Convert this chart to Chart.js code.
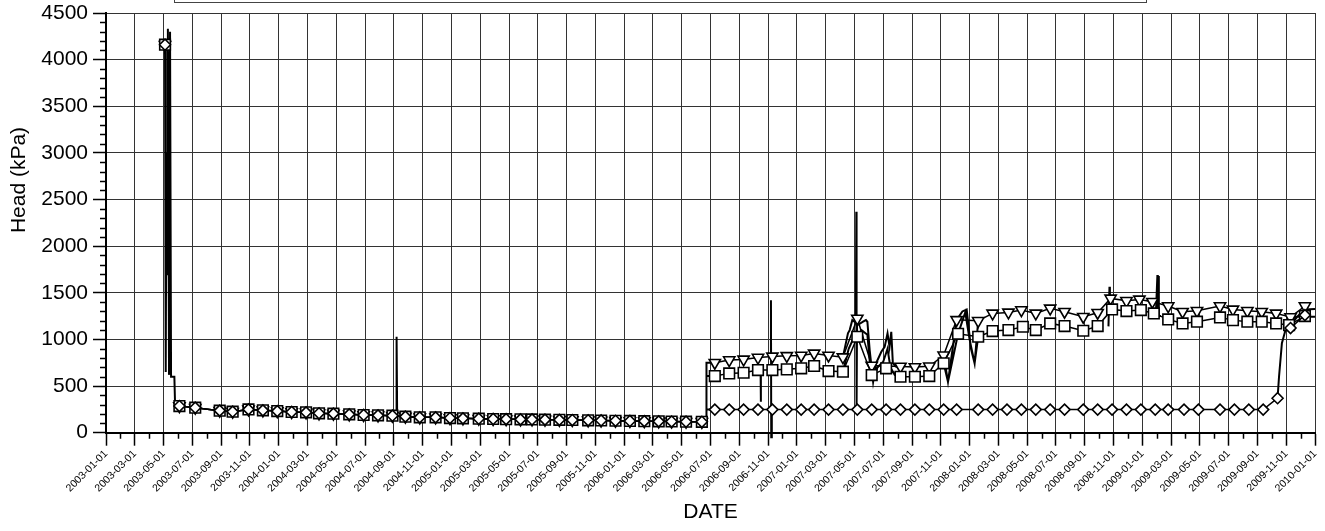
<!DOCTYPE html>
<html>
<head>
<meta charset="utf-8">
<script src="https://cdn.jsdelivr.net/npm/chart.js@4.4.1/dist/chart.umd.min.js"></script>
<style>
  html, body { margin: 0; padding: 0; background: #fff; }
</style>
</head>
<body>
<canvas id="headChart" width="1325" height="531"></canvas>
<script>
// x values are months counted from 2003-01-01
const startYear = 2003;
const monthCount = 84;

// readings shared by all three piezometers before the split in 2006-07
const earlyMonths = [4.1, 4.6, 5.1, 6.2, 7.9, 8.8, 9.9, 10.9, 11.9, 12.9, 13.9, 14.8, 15.8, 16.9, 17.9, 18.9, 19.9, 20.8, 21.8, 22.9,
  23.9, 24.8, 25.9, 26.9, 27.8, 28.8, 29.6, 30.5, 31.5, 32.4, 33.5, 34.4, 35.4, 36.4, 37.4, 38.4, 39.3, 40.3, 41.4, 41.8];
const earlyHead = [4160, null, 286, 268, 236, 225, 250, 240, 232, 222, 218, 208, 204, 197, 190, 186, 182, 172, 165, 165,
  157, 154, 150, 147, 145, 143, 142, 140, 138, 136, 133, 131, 128, 126, 124, 122, 120, 118, 117, null];

const squareMonths = [42.3, 43.3, 44.3, 45.3, 46.3, 47.3, 48.3, 49.2, 50.2, 51.2, 52.2, 53.2, 54.2, 55.2, 56.2, 57.2, 58.2, 59.2, 60.6, 61.6,
  62.7, 63.7, 64.6, 65.6, 66.6, 67.9, 68.9, 69.9, 70.9, 71.9, 72.8, 73.8, 74.8, 75.8, 77.4, 78.3, 79.3, 80.3, 81.3, 82.2, 83.3];
const squareHead = [607, 636, 643, 672, 672, 679, 690, 715, 661, 654, 1029, 618, 690, 600, 600, 607, 744, 1060, 1029, 1090,
  1100, 1136, 1100, 1172, 1143, 1093, 1143, 1322, 1304, 1315, 1279, 1215, 1172, 1190, 1236, 1207, 1190, 1190, 1172, 1154, 1250];

const triangleMonths = [42.3, 43.3, 44.3, 45.3, 46.3, 47.3, 48.3, 49.2, 50.2, 51.2, 52.2, 53.2, 55.2, 56.2, 57.2, 58.2, 59.1, 60.6, 61.6, 62.7,
  63.6, 64.6, 65.6, 66.6, 67.9, 68.9, 69.8, 70.9, 71.8, 72.7, 73.8, 74.8, 75.8, 77.4, 78.3, 79.3, 80.3, 81.3, 82.3, 83.3];
const triangleHead = [750, 779, 786, 806, 818, 824, 828, 850, 828, 810, 1225, 720, 710, 705, 712, 830, 1210, 1200, 1279, 1290,
  1315, 1279, 1333, 1297, 1243, 1286, 1440, 1414, 1429, 1404, 1358, 1297, 1307, 1358, 1322, 1307, 1297, 1279, 1240, 1358];

const diamondMonths = [42.3, 43.3, 44.3, 45.3, 46.3, 47.3, 48.3, 49.2, 50.2, 51.2, 52.2, 53.2, 54.2, 55.2, 56.2, 57.2, 58.2, 59.1, 60.6, 61.6,
  62.6, 63.6, 64.6, 65.6, 66.6, 67.9, 68.9, 69.9, 70.9, 71.9, 72.9, 73.8, 74.9, 75.9, 77.4, 78.4, 79.4, 80.4, 81.4, 81.8, 82.3, 83.3];
const diamondHead = [248, 248, 248, 248, 248, 248, 248, 248, 248, 248, 248, 248, 248, 248, 248, 248, 248, 248, 248, 248,
  248, 248, 248, 248, 248, 248, 248, 248, 248, 248, 248, 248, 248, 248, 248, 248, 248, 248, 370, null, 1122, 1261];

// continuous logger traces (no markers), null breaks the line
const loggerMonths = [
  4.1, 4.15, 4.2, 4.25, 4.3, 4.38, 4.45, 4.52, 4.75, 4.8, 5.1, 5.2,
  20.15, 20.19, 20.23, 20.3,
  41.4, 41.7, 41.72, 42.3, 42.31,
  41.72, 42.3, 42.31,
  41.72, 42.3, 42.31,
  45.48, 45.5, 45.52,
  46.15, 46.2, 46.22, 46.26, 46.3,
  51.2, 51.55, 51.67, 51.85, 52.1, 52.13, 52.15, 52.18, 52.6, 52.8, 52.9, 53.06, 53.3, 53.5, 53.87, 54.1, 54.3, 54.44, 54.56, 54.67, 54.9, 55.2, 55.3,
  51.2, 51.6, 51.9, 52.2, 52.5, 52.9, 53.1, 53.3, 53.6, 54.0, 54.3, 54.5, 54.8, 55.2, 55.3,
  58.2, 58.5, 59.1, 59.5, 59.8, 60.1, 60.35, 60.6, 60.7,
  58.2, 58.5, 59.2, 59.7, 60.0, 60.35, 60.6, 60.7,
  69.65, 69.72, 69.75, 69.9, 70.0,
  72.95, 73.05, 73.08, 73.12, 73.15, 73.3, 73.4,
  81.4, 81.5, 81.7, 81.95, 82.3, 82.8, 83.3, 84, 84,
  82.0, 82.7, 84
];
const loggerHead = [
  4160, 650, 3000, 1700, 4330, 620, 4300, 600, 600, 300, 286, null,
  178, 1030, 176, null,
  117, 117, 750, 750, null,
  607, 607, null,
  248, 248, null,
  672, 332, null,
  815, 1420, -50, 248, null,
  810, 1065, 1100, 1207, 1180, 2368, 270, 1150, 1190, 1207, 1190, 886, 546, 744, 868, 921, 1065, 921, 1082, 744, 707, 710, null,
  654, 900, 1000, 1029, 1100, 1050, 700, 580, 700, 760, 900, 700, 620, 600, null,
  830, 546, 1210, 1300, 1322, 900, 744, 1200, null,
  744, 546, 1060, 1290, 1000, 744, 1029, null,
  1140, 1564, 1300, 1322, null,
  1290, 1690, 1243, 1680, 1250, 1250, null,
  370, 600, 960, 1100, 1150, 1250, 1320, 1325, null,
  1200, 1243, 1243
];

const yTickValues = [];
for (let v = 0; v <= 4500; v += 100) yTickValues.push(v);
const monthLabels = [];
for (let i = 0; i <= monthCount; i++) {
  const yr = startYear + Math.floor(i / 12);
  const mo = (i % 12) + 1;
  monthLabels.push(yr + '-' + (mo < 10 ? '0' : '') + mo + '-01');
}

function toPoints(xs, ys) {
  return xs.map((x, i) => ({ x: x, y: ys[i] }));
}

const fontFamily = "'Liberation Sans', Arial, sans-serif";

// minor tick marks, the empty legend frame and the y title
const extras = {
  id: 'extras',
  afterDraw(chart) {
    const { ctx, scales: { x, y } } = chart;
    ctx.save();
    ctx.strokeStyle = '#000';
    ctx.lineWidth = 1.5;
    ctx.beginPath();
    for (let m = 1; m < monthCount; m += 2) {
      const px = Math.round(x.getPixelForValue(m)) + 0.5;
      ctx.moveTo(px, y.bottom);
      ctx.lineTo(px, y.bottom + 6);
    }
    yTickValues.forEach(function (v) {
      if (v % 500 !== 0) {
        const py = Math.round(y.getPixelForValue(v)) + 0.5;
        ctx.moveTo(x.left - 6, py);
        ctx.lineTo(x.left, py);
      }
    });
    ctx.stroke();

    ctx.strokeStyle = '#444';
    ctx.lineWidth = 1;
    ctx.strokeRect(174.5, -6, 972, 8.5);

    ctx.fillStyle = '#000';
    ctx.font = '21px ' + fontFamily;
    ctx.textAlign = 'center';
    ctx.textBaseline = 'middle';
    ctx.translate(19, 180);
    ctx.rotate(-Math.PI / 2);
    ctx.fillText('Head (kPa)', 0, 0);
    ctx.restore();
  }
};

const markerBase = {
  borderColor: '#000',
  backgroundColor: '#fff',
  borderWidth: 1.5,
  pointBorderWidth: 1.6,
  pointBorderColor: '#000',
  pointBackgroundColor: '#fff',
  spanGaps: false,
  tension: 0
};

const config = {
  type: 'line',
  data: {
    datasets: [
      Object.assign({}, markerBase, {
        label: 'Piezometer C',
        data: toPoints(earlyMonths.concat(diamondMonths), earlyHead.concat(diamondHead)),
        pointStyle: 'rectRot',
        pointRadius: 5.5
      }),
      Object.assign({}, markerBase, {
        label: 'Piezometer A',
        data: toPoints(earlyMonths.concat(squareMonths), earlyHead.concat(squareHead)),
        pointStyle: 'rect',
        pointRadius: 7.5
      }),
      Object.assign({}, markerBase, {
        label: 'Piezometer B',
        data: toPoints(earlyMonths.concat(triangleMonths), earlyHead.concat(triangleHead)),
        pointStyle: 'triangle',
        rotation: 180,
        pointRadius: 6.5
      }),
      {
        label: 'Logger',
        data: toPoints(loggerMonths, loggerHead),
        borderColor: '#000',
        borderWidth: 2,
        pointRadius: 0,
        spanGaps: false,
        tension: 0,
        clip: { left: 0, top: 0, right: 0, bottom: 8 }
      }
    ]
  },
  options: {
    responsive: false,
    animation: false,
    events: [],
    layout: { padding: { top: 13, right: 10, bottom: 4, left: 0 } },
    plugins: {
      legend: { display: false },
      tooltip: { enabled: false }
    },
    scales: {
      x: {
        type: 'linear',
        min: 0,
        max: monthCount,
        afterBuildTicks: function (scale) {
          scale.ticks = monthLabels.map((l, i) => ({ value: i })).filter(t => t.value % 2 === 0);
        },
        afterFit: function (scale) {
          scale.height = 94.3;
          scale.paddingLeft = 0;
          scale.paddingRight = 0;
        },
        border: { color: '#000', width: 2 },
        grid: {
          color: '#333',
          lineWidth: 1,
          tickLength: 13,
          tickColor: '#000',
          tickWidth: 1.5
        },
        ticks: {
          autoSkip: false,
          minRotation: 45,
          maxRotation: 45,
          padding: 2,
          color: '#000',
          font: { family: fontFamily, size: 10.5 },
          callback: function (value) { return monthLabels[value]; }
        },
        title: {
          display: true,
          text: 'DATE',
          color: '#000',
          font: { family: fontFamily, size: 21 },
          padding: { top: 0, bottom: 2 }
        }
      },
      y: {
        min: 0,
        max: 4500,
        afterBuildTicks: function (scale) {
          scale.ticks = yTickValues.filter(v => v % 500 === 0).map(v => ({ value: v }));
        },
        afterFit: function (scale) {
          scale.width = 106;
          scale.paddingTop = 0;
          scale.paddingBottom = 0;
        },
        border: { color: '#000', width: 2 },
        grid: {
          color: '#333',
          lineWidth: 1,
          tickLength: 13,
          tickColor: '#000',
          tickWidth: 1.5
        },
        ticks: {
          autoSkip: false,
          padding: 5,
          color: '#000',
          font: { family: fontFamily, size: 21 },
          callback: function (value) { return String(value); }
        }
      }
    }
  },
  plugins: [extras]
};

new Chart(document.getElementById('headChart'), config);
</script>
</body>
</html>
